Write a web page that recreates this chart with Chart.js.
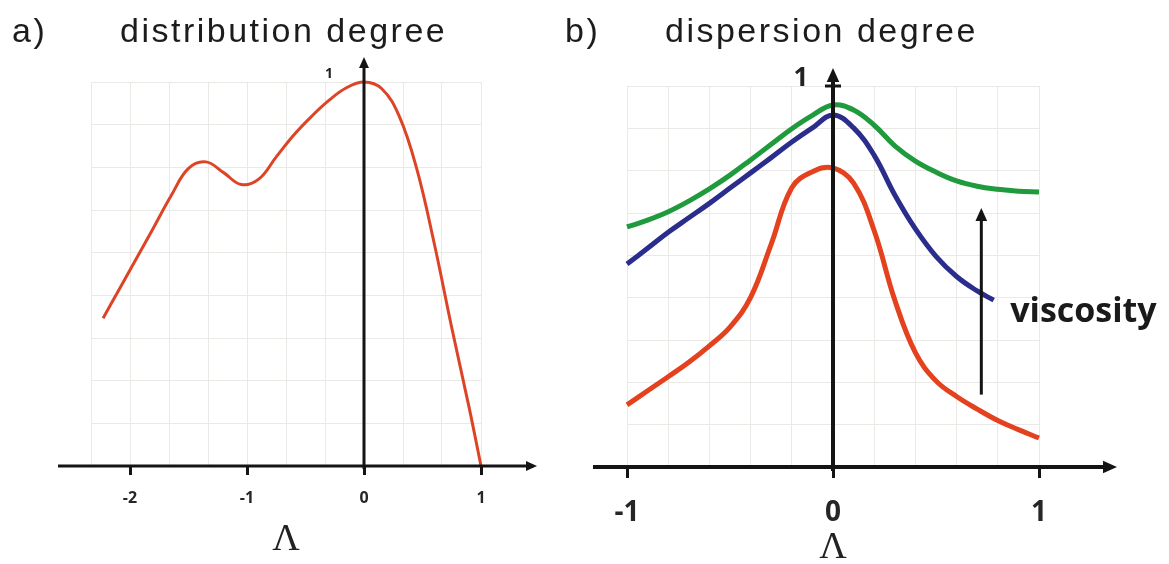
<!DOCTYPE html>
<html>
<head>
<meta charset="utf-8">
<script src="https://cdn.jsdelivr.net/npm/chart.js@4.4.0/dist/chart.umd.min.js"></script>
<style>
  body { margin: 0; background: #fff; }
  #wrap { position: relative; width: 1169px; height: 564px; overflow: hidden; }
  canvas { position: absolute; top: 0; }
  #chartA { left: 0; }
  #chartB { left: 580px; }
  .head { position: absolute; font-family: "Liberation Sans", Arial, sans-serif; font-size: 34px; color: #1c1c1c; line-height: 1; white-space: nowrap; letter-spacing: 2.5px; }
</style>
</head>
<body>
<div id="wrap">
  <canvas id="chartA" width="580" height="572"></canvas>
  <canvas id="chartB" width="589" height="572"></canvas>
  <div class="head" style="left:12px; top:13px">a)</div>
  <div class="head" style="left:120px; top:13px">distribution degree</div>
  <div class="head" style="left:565px; top:13px">b)</div>
  <div class="head" style="left:665px; top:13px">dispersion degree</div>
</div>
<script>
// a) distribution degree against Λ
const distLambda = [-2.23, -2.1, -1.95, -1.8, -1.65, -1.5, -1.35, -1.2, -1.05, -0.9, -0.75, -0.6, -0.45, -0.3, -0.15, 0, 0.15, 0.3, 0.45, 0.6, 0.75, 0.9, 1];
const distDegree = [0.385, 0.456, 0.538, 0.62, 0.703, 0.775, 0.792, 0.764, 0.733, 0.747, 0.805, 0.862, 0.91, 0.952, 0.985, 1.0, 0.983, 0.912, 0.775, 0.58, 0.36, 0.15, 0];

// b) dispersion degree against Λ, one curve per viscosity (low -> high)
const lowLambda = [-1, -0.9, -0.8, -0.7, -0.6, -0.5, -0.4, -0.3, -0.2, -0.1, 0, 0.1, 0.2, 0.3, 0.4, 0.5, 0.6, 0.7, 0.8, 0.9, 1];
const lowDisp = [0.163, 0.2, 0.237, 0.275, 0.318, 0.367, 0.445, 0.585, 0.733, 0.775, 0.785, 0.745, 0.62, 0.438, 0.3, 0.226, 0.185, 0.152, 0.122, 0.098, 0.076];
const midLambda = [-1, -0.9, -0.8, -0.7, -0.6, -0.5, -0.4, -0.3, -0.2, -0.1, 0, 0.1, 0.2, 0.3, 0.4, 0.5, 0.6, 0.7, 0.78];
const midDisp = [0.533, 0.574, 0.616, 0.654, 0.692, 0.732, 0.772, 0.812, 0.853, 0.89, 0.924, 0.89, 0.818, 0.714, 0.625, 0.553, 0.5, 0.462, 0.438];
const highLambda = [-1, -0.9, -0.8, -0.7, -0.6, -0.5, -0.4, -0.3, -0.2, -0.1, 0, 0.1, 0.2, 0.3, 0.4, 0.5, 0.6, 0.7, 0.8, 0.9, 1];
const highDisp = [0.63, 0.648, 0.67, 0.698, 0.73, 0.766, 0.806, 0.847, 0.888, 0.923, 0.95, 0.937, 0.897, 0.843, 0.803, 0.774, 0.751, 0.737, 0.729, 0.724, 0.722];

// grid lines and the ticks that carry a label
const gridA = [-7 / 3, -2, -5 / 3, -4 / 3, -1, -2 / 3, -1 / 3, 0, 1 / 3, 2 / 3, 1];
const labelsA = [-2, -1, 0, 1];
const gridB = [-1, -0.8, -0.6, -0.4, -0.2, 0, 0.2, 0.4, 0.6, 0.8, 1];
const labelsB = [-1, 0, 1];
const gridY = [0, 1 / 9, 2 / 9, 3 / 9, 4 / 9, 5 / 9, 6 / 9, 7 / 9, 8 / 9, 1];

// viscosity arrow (Λ, from, to) and where its word sits
const viscArrow = [0.72, 0.19, 0.68];
const viscText = [0.86, 0.38];

const gridColor = '#ebe9e6';
const ink = '#141414';

function pts(xs, ys) {
  return xs.map((x, i) => ({ x: x, y: ys[i] }));
}

function isLabel(list, v) {
  return list.some(t => Math.abs(t - v) < 1e-6);
}

function arrow(ctx, x1, y1, x2, y2, w, head) {
  const ang = Math.atan2(y2 - y1, x2 - x1);
  ctx.save();
  ctx.strokeStyle = ink;
  ctx.fillStyle = ink;
  ctx.lineWidth = w;
  ctx.beginPath();
  ctx.moveTo(x1, y1);
  ctx.lineTo(x2 - Math.cos(ang) * head * 0.7, y2 - Math.sin(ang) * head * 0.7);
  ctx.stroke();
  ctx.translate(x2, y2);
  ctx.rotate(ang);
  ctx.beginPath();
  ctx.moveTo(0, 0);
  ctx.lineTo(-head, -head * 0.45);
  ctx.lineTo(-head, head * 0.45);
  ctx.closePath();
  ctx.fill();
  ctx.restore();
}

// black axes through the origin, the "1" mark and the viscosity arrow
const axesPlugin = {
  id: 'axes',
  afterDatasetsDraw(chart, args, o) {
    const { ctx, chartArea: a, scales: { x, y } } = chart;
    const x0 = x.getPixelForValue(0);
    const y0 = y.getPixelForValue(0);
    const y1 = y.getPixelForValue(1);
    arrow(ctx, a.left - o.extLeft, y0, a.right + o.extRight, y0, o.width, o.head);
    arrow(ctx, x0, y0 + o.width, x0, a.top - o.extTop, o.width, o.head);

    ctx.save();
    ctx.fillStyle = '#222';
    ctx.textAlign = 'center';
    ctx.textBaseline = 'middle';
    ctx.font = o.oneFont;
    ctx.fillText('1', x0 + o.oneDx, y1 + o.oneDy);
    if (o.cross) {
      ctx.strokeStyle = ink;
      ctx.lineWidth = 3;
      ctx.beginPath();
      ctx.moveTo(x0 - o.cross, y1);
      ctx.lineTo(x0 + o.cross, y1);
      ctx.stroke();
    }
    if (o.note) {
      const ax = x.getPixelForValue(viscArrow[0]);
      arrow(ctx, ax, y.getPixelForValue(viscArrow[1]), ax, y.getPixelForValue(viscArrow[2]), 3, 13);
      ctx.font = 'bold 34px "Open Sans"';
      ctx.textAlign = 'left';
      ctx.textBaseline = 'alphabetic';
      ctx.fillStyle = '#1a1a1a';
      ctx.fillText(o.note, x.getPixelForValue(viscText[0]), y.getPixelForValue(viscText[1]));
    }
    ctx.restore();
  }
};

function makeScales(grid, labels, min, max, tickFont, tickLen, tickPad, titleSize, scaleHeight) {
  return {
    x: {
      type: 'linear',
      min: min,
      max: max,
      afterBuildTicks: s => { s.ticks = grid.map(v => ({ value: v })); },
      afterFit: s => { s.height = scaleHeight; },
      ticks: {
        autoSkip: false,
        maxRotation: 0,
        padding: tickPad,
        color: '#262626',
        font: tickFont,
        callback: v => isLabel(labels, v) ? String(Math.round(v)) : ''
      },
      grid: {
        color: gridColor,
        lineWidth: 1,
        tickLength: tickLen,
        tickWidth: 3,
        tickColor: c => (c.tick && isLabel(labels, c.tick.value)) ? ink : 'rgba(0,0,0,0)'
      },
      border: { display: false },
      title: {
        display: true,
        text: 'Λ',
        color: '#222',
        padding: 0,
        font: { family: '"Liberation Serif", serif', size: titleSize, lineHeight: 1 }
      }
    },
    y: {
      type: 'linear',
      min: 0,
      max: 1,
      afterBuildTicks: s => { s.ticks = gridY.map(v => ({ value: v })); },
      afterFit: s => { s.width = 0; },
      ticks: { display: false },
      grid: { color: gridColor, lineWidth: 1, drawTicks: false },
      border: { display: false }
    }
  };
}

function line(xs, ys, color, width) {
  return {
    data: pts(xs, ys),
    borderColor: color,
    borderWidth: width,
    pointRadius: 0,
    fill: false,
    clip: false,
    tension: 0.4
  };
}

new Chart(document.getElementById('chartA'), {
  type: 'line',
  data: { datasets: [line(distLambda, distDegree, '#dd4426', 3)] },
  plugins: [axesPlugin],
  options: {
    responsive: false,
    animation: false,
    devicePixelRatio: 1,
    layout: { padding: { left: 91, right: 99, top: 82, bottom: 13 } },
    scales: makeScales(gridA, labelsA, -7 / 3, 1,
      { family: '"Open Sans"', weight: 'bold', size: 16 }, 9, 14, 38, 93),
    plugins: {
      legend: { display: false },
      tooltip: { enabled: false },
      axes: { extLeft: 33, extRight: 56, extTop: 25, width: 3, head: 11,
        oneFont: 'bold 14px "Open Sans"', oneDx: -35, oneDy: -8 }
    }
  }
});

new Chart(document.getElementById('chartB'), {
  type: 'line',
  data: {
    datasets: [
      line(lowLambda, lowDisp, '#e4421f', 5),
      line(midLambda, midDisp, '#2b2d8c', 5),
      line(highLambda, highDisp, '#1f9a3c', 5)
    ]
  },
  plugins: [axesPlugin],
  options: {
    responsive: false,
    animation: false,
    devicePixelRatio: 1,
    layout: { padding: { left: 47, right: 130, top: 86, bottom: 5 } },
    scales: makeScales(gridB, labelsB, -1, 1,
      { family: '"Open Sans"', weight: 'bold', size: 28 }, 11, 18, 38, 100),
    plugins: {
      legend: { display: false },
      tooltip: { enabled: false },
      axes: { extLeft: 34, extRight: 78, extTop: 18, width: 4, head: 14,
        oneFont: 'bold 26px "Open Sans"', oneDx: -32, oneDy: -7, cross: 8, note: 'viscosity' }
    }
  }
});
</script>
</body>
</html>
